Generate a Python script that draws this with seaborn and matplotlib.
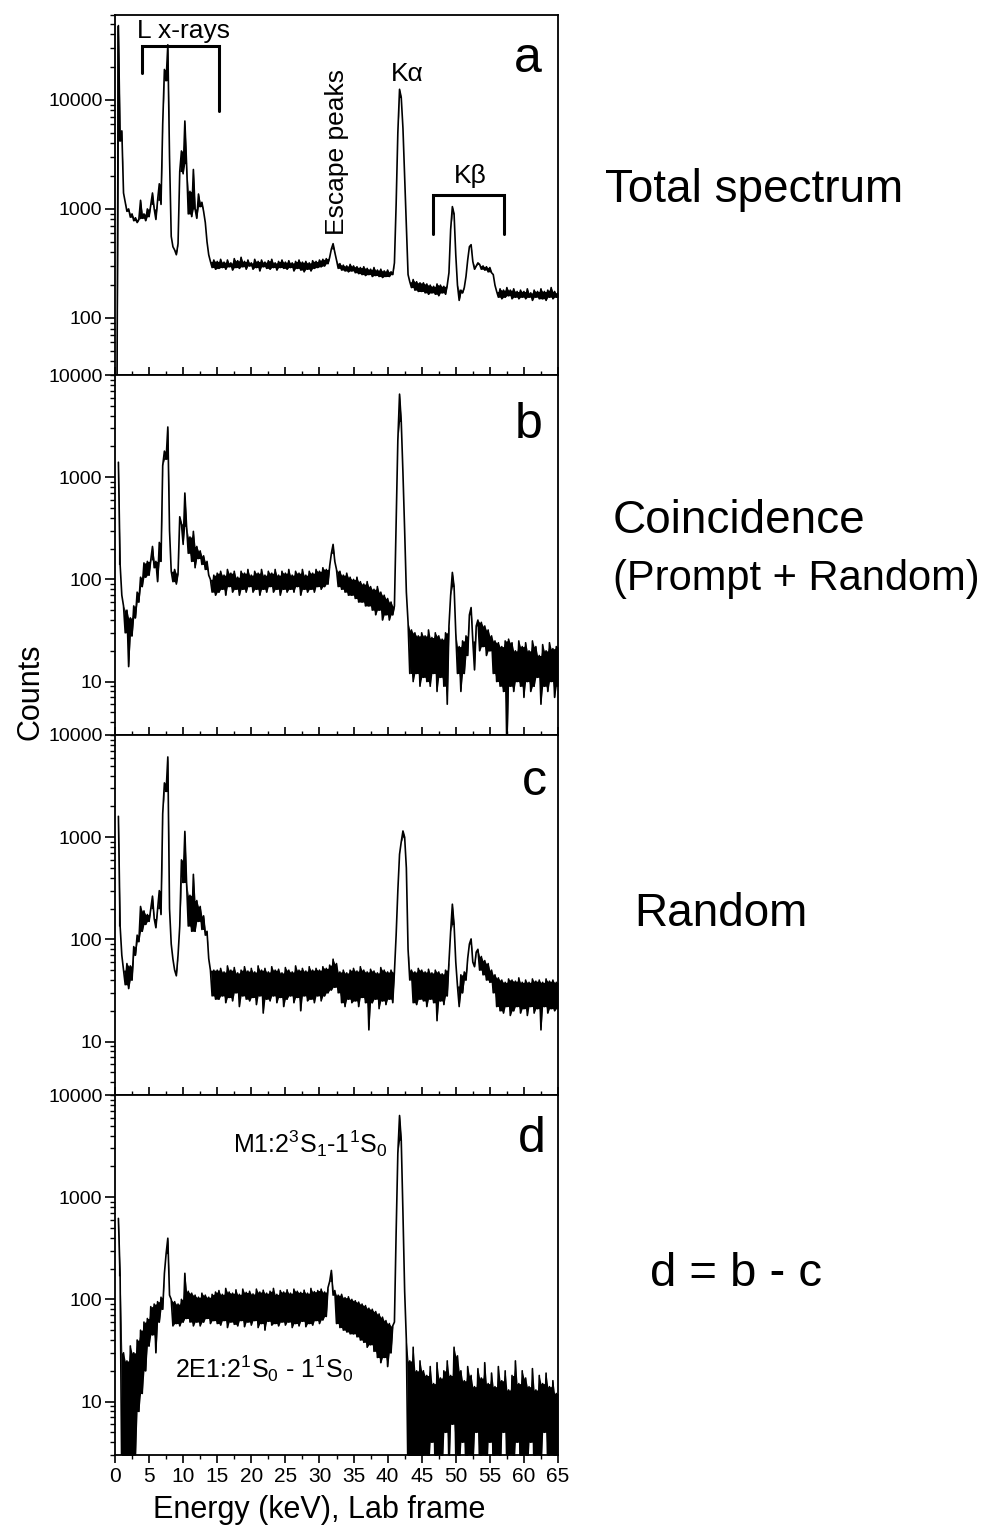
import numpy as np
import pandas as pd
import matplotlib
matplotlib.use("Agg")
import matplotlib.pyplot as plt
import seaborn as sns
from matplotlib.ticker import FixedLocator, LogLocator, NullFormatter, FuncFormatter, MultipleLocator

sns.set_theme(style="ticks")
plt.rcParams["font.family"] = ["Liberation Sans", "DejaVu Sans"]
plt.rcParams["mathtext.fontset"] = "custom"
plt.rcParams["mathtext.rm"] = "Liberation Sans"
plt.rcParams["mathtext.it"] = "Liberation Sans:italic"
plt.rcParams["mathtext.bf"] = "Liberation Sans:bold"
plt.rcParams.update({"text.color": "black", "axes.labelcolor": "black", "xtick.color": "black",
                     "ytick.color": "black", "axes.edgecolor": "black"})

# Channel energies (keV), 0.25 keV bins from 0 to 65 keV
energy_kev = np.arange(0, 65.001, 0.25)

# (a) total spectrum, counts per bin (rows of 5 keV)
counts_total = [
    np.nan, 5, 48000, 4200, 5200, 1400, 1150, 950, 1000, 840, 900, 780, 830, 750, 800, 1200, 820, 900, 780, 1000,
    850, 1100, 1400, 1000, 800, 1200, 1700, 1100, 6000, 19000, 15000, 32000, 3000, 560, 450, 420, 380, 480, 2200, 3400,
    2100, 6400, 2600, 900, 1450, 850, 2300, 1000, 820, 1370, 1050, 1150, 950, 750, 500, 380, 330, 290, 340, 280,
    330, 285, 345, 290, 325, 280, 340, 295, 320, 275, 350, 290, 335, 285, 360, 295, 330, 280, 340, 300,
    320, 280, 345, 290, 330, 270, 340, 295, 325, 285, 335, 280, 345, 290, 320, 275, 330, 290, 340, 285,
    325, 280, 335, 290, 320, 270, 330, 285, 340, 275, 325, 265, 330, 280, 320, 270, 335, 285, 330, 290,
    340, 295, 345, 300, 350, 315, 360, 430, 480, 400, 340, 285, 315, 275, 305, 270, 300, 265, 310, 270,
    300, 260, 295, 255, 290, 250, 295, 245, 285, 250, 280, 240, 290, 245, 275, 240, 280, 235, 270, 240,
    275, 240, 265, 250, 320, 1100, 5000, 12500, 10500, 5500, 1900, 700, 250, 215, 190, 225, 180, 215, 175, 210,
    175, 210, 170, 205, 165, 200, 170, 195, 165, 205, 160, 200, 170, 195, 165, 200, 260, 650, 1050, 900,
    380, 200, 145, 180, 170, 190, 240, 340, 450, 470, 330, 280, 300, 320, 310, 280, 300, 275, 295, 265,
    290, 260, 250, 200, 175, 155, 185, 150, 180, 155, 190, 160, 180, 150, 185, 155, 175, 150, 180, 155,
    175, 150, 185, 155, 170, 145, 180, 155, 175, 150, 185, 150, 175, 145, 180, 155, 190, 150, 175, 155,
    170,
]

# (b) coincidence spectrum (prompt + random)
counts_coinc = [
    np.nan, np.nan, 1400, 140, 70, 55, 30, 50, 14, 42, 28, 55, 42, 75, 60, 105, 85, 145, 105, 150,
    110, 155, 210, 130, 150, 95, 230, 150, 1300, 1800, 1500, 3100, 300, 120, 95, 125, 90, 115, 410, 350,
    220, 700, 330, 180, 260, 150, 295, 130, 210, 160, 190, 140, 170, 125, 150, 110, 100, 75, 110, 70,
    115, 75, 120, 80, 110, 70, 125, 85, 115, 75, 120, 80, 105, 70, 120, 80, 115, 75, 125, 85,
    110, 75, 120, 80, 115, 70, 125, 80, 110, 75, 120, 85, 115, 75, 125, 80, 110, 70, 120, 80,
    115, 75, 125, 80, 110, 75, 120, 85, 115, 70, 125, 80, 110, 75, 120, 80, 115, 75, 125, 85,
    120, 80, 130, 85, 125, 90, 135, 180, 220, 150, 125, 85, 120, 80, 110, 75, 115, 70, 105, 70,
    100, 65, 105, 60, 95, 60, 90, 55, 95, 55, 85, 50, 80, 45, 85, 50, 75, 40, 70, 45,
    65, 40, 60, 45, 55, 350, 2300, 6500, 3500, 1100, 300, 75, 38, 12, 32, 10, 30, 12, 28, 9,
    30, 11, 28, 10, 32, 9, 27, 12, 30, 8, 28, 11, 26, 9, 30, 6, 35, 70, 117, 85,
    30, 12, 22, 8, 25, 12, 28, 18, 45, 53, 25, 13, 35, 40, 20, 38, 22, 35, 18, 32,
    20, 28, 12, 25, 10, 24, 9, 22, 8, 25, 2, 26, 9, 24, 8, 20, 10, 25, 9, 22,
    7, 24, 10, 20, 8, 25, 9, 22, 11, 18, 6, 23, 9, 20, 8, 24, 10, 21, 7, 22,
    9,
]

# (c) random-coincidence spectrum
counts_random = [
    np.nan, np.nan, 1600, 135, 70, 50, 36, 58, 33, 55, 40, 85, 70, 110, 95, 210, 120, 190, 140, 175,
    150, 200, 265, 160, 130, 200, 300, 175, 1700, 3400, 2800, 6100, 200, 90, 64, 50, 44, 70, 135, 600,
    360, 1140, 360, 135, 270, 120, 433, 120, 240, 150, 210, 125, 170, 110, 120, 65, 50, 28, 50, 26,
    50, 26, 52, 28, 48, 24, 55, 27, 50, 25, 53, 30, 47, 22, 50, 28, 54, 26, 49, 25,
    52, 27, 48, 23, 55, 28, 50, 19, 52, 26, 48, 25, 54, 28, 50, 24, 51, 27, 47, 22,
    53, 26, 50, 28, 48, 24, 55, 27, 50, 20, 52, 28, 49, 25, 54, 26, 50, 24, 52, 28,
    50, 25, 54, 28, 52, 30, 56, 32, 64, 34, 58, 30, 48, 24, 50, 22, 47, 26, 50, 24,
    52, 25, 49, 22, 54, 27, 50, 24, 48, 13, 51, 24, 49, 26, 47, 21, 53, 25, 50, 23,
    48, 26, 50, 24, 48, 110, 300, 680, 900, 1150, 1000, 500, 80, 40, 50, 24, 48, 23, 52, 26,
    50, 25, 48, 22, 51, 26, 47, 24, 50, 16, 48, 25, 46, 23, 50, 28, 60, 120, 221, 140,
    60, 35, 22, 45, 30, 48, 40, 65, 90, 101, 60, 54, 75, 80, 50, 68, 45, 62, 40, 58,
    38, 50, 30, 45, 22, 42, 20, 40, 19, 38, 22, 41, 18, 40, 20, 39, 22, 42, 19, 38,
    21, 40, 18, 38, 22, 41, 19, 39, 21, 40, 13, 38, 22, 41, 19, 39, 21, 40, 20, 38,
    21,
]

# (d) difference spectrum d = b - c
counts_diff = [
    np.nan, np.nan, 620, 170, 1.5, 30, 2.5, 25, 1.5, 35, 2, 30, 3, 40, 8, 50, 12, 60, 20, 65,
    35, 85, 45, 90, 30, 95, 60, 105, 80, 180, 280, 397, 110, 100, 55, 95, 58, 90, 55, 100,
    60, 180, 65, 120, 60, 115, 55, 110, 60, 105, 55, 115, 60, 110, 65, 105, 58, 112, 62, 118,
    58, 122, 56, 112, 62, 128, 53, 118, 60, 115, 57, 124, 55, 112, 62, 126, 54, 117, 60, 120,
    56, 113, 62, 126, 53, 118, 58, 123, 50, 115, 61, 120, 56, 128, 58, 112, 55, 122, 60, 118,
    56, 124, 60, 115, 53, 126, 58, 120, 55, 117, 61, 123, 54, 115, 58, 128, 56, 119, 62, 122,
    58, 126, 63, 118, 68, 130, 150, 192, 110, 122, 58, 110, 53, 112, 50, 104, 48, 106, 46, 100,
    46, 97, 43, 94, 40, 90, 38, 87, 34, 82, 36, 80, 31, 76, 27, 72, 24, 67, 27, 62,
    22, 58, 30, 55, 60, 450, 2700, 6300, 3600, 700, 120, 40, 1.5, 25, 2, 34, 1.5, 20, 2, 25,
    1.5, 20, 3, 18, 2, 22, 4, 15, 1.5, 24, 3, 17, 2, 20, 5, 25, 2, 18, 6, 34,
    3, 28, 2, 20, 4, 16, 1.5, 22, 3, 18, 2, 14, 5, 21, 2, 17, 3, 24, 1.5, 15,
    4, 19, 2, 14, 3, 22, 1.5, 16, 5, 20, 2, 13, 3, 18, 2, 25, 4, 15, 1.5, 20,
    3, 17, 2, 14, 4, 21, 1.5, 13, 3, 18, 2, 15, 5, 19, 2, 14, 3, 16, 2, 12,
    3,
]

panel_letters = ["a", "b", "c", "d"]
panel_ylims = [(30, 60000), (3, 10000), (3, 10000), (3, 10000)]
panel_yticks = [[100, 1000, 10000], [10, 100, 1000, 10000], [10, 100, 1000, 10000], [10, 100, 1000, 10000]]
x_ticks = list(range(0, 66, 5))

spectra = [counts_total, counts_coinc, counts_random, counts_diff]

fig, axes = plt.subplots(4, 1, figsize=(9.82, 15.28), dpi=100, sharex=True)
fig.subplots_adjust(left=115 / 982, right=558 / 982, top=1 - 15 / 1528, bottom=1 - 1455 / 1528, hspace=0)

letter_pos = [(0.931, 0.841), (0.933, 0.825), (0.947, 0.833), (0.942, 0.842)]


def noise_envelope(values):
    """Upper/lower edges of the channel-to-channel scatter around each bin."""
    s = pd.Series(values, dtype=float)
    prev, nxt = s.shift(1).to_numpy(), s.shift(-1).to_numpy()
    v = s.to_numpy()
    upper = np.fmax(v, np.fmin(prev, nxt))
    lower = np.fmin(v, np.fmax(prev, nxt))
    upper[np.isnan(v)] = np.nan
    lower[np.isnan(v)] = np.nan
    return lower, upper


for i, (ax, counts) in enumerate(zip(axes, spectra)):
    df = pd.DataFrame({"energy": energy_kev, "counts": counts})
    lower, upper = noise_envelope(counts)
    ax.fill_between(energy_kev, lower, upper, color="black", linewidth=0)
    sns.lineplot(data=df, x="energy", y="counts", ax=ax, color="black",
                 linewidth=1.2, estimator=None, legend=False)
    ax.set_yscale("log")
    ax.set_xlim(0, 65)
    ax.set_ylim(*panel_ylims[i])
    ax.set_xlabel("")
    ax.set_ylabel("")
    ax.yaxis.set_major_locator(FixedLocator(panel_yticks[i]))
    ax.yaxis.set_major_formatter(FuncFormatter(lambda v, p: f"{int(round(v))}"))
    ax.yaxis.set_minor_locator(LogLocator(base=10, subs=np.arange(2, 10)))
    ax.yaxis.set_minor_formatter(NullFormatter())
    ax.xaxis.set_major_locator(FixedLocator(x_ticks))
    ax.xaxis.set_minor_locator(MultipleLocator(2.5))
    for s in ax.spines.values():
        s.set_linewidth(1.3)
        s.set_color("black")
    ax.tick_params(axis="y", which="major", direction="out", length=7, width=1.2,
                   labelsize=14, pad=2, colors="black", right=False)
    ax.tick_params(axis="y", which="minor", direction="out", length=3.5, width=1.0, right=False)
    last = i == 3
    ax.tick_params(axis="x", which="major", direction="out" if last else "in", length=6,
                   width=1.2, labelsize=15, pad=3, top=False, labelbottom=last, colors="black")
    ax.tick_params(axis="x", which="minor", direction="out" if last else "in", length=3,
                   width=1.0, top=False)
    lx, ly = letter_pos[i]
    ax.text(lx, ly, panel_letters[i], transform=ax.transAxes, ha="center", va="baseline",
            fontsize=36, color="black")

# Annotations on the total spectrum
ax_a = axes[0]
ax_a.plot([4.0, 4.0, 15.3, 15.3], [17700, 31000, 31000, 7900], color="black", lw=2.2,
          solid_joinstyle="miter")
ax_a.text(3.2, 37000, "L x-rays", fontsize=19, ha="left", va="baseline")
ax_a.plot([46.7, 46.7, 57.1, 57.1], [590, 1340, 1340, 590], color="black", lw=2.2,
          solid_joinstyle="miter")
ax_a.text(49.65, 1740, "K\u03b2", fontsize=19, ha="left", va="baseline")
ax_a.text(40.45, 14900, "K\u03b1", fontsize=19, ha="left", va="baseline")
ax_a.text(32.6, 3330, "Escape peaks", fontsize=19, ha="center", va="center", rotation=90)

# Transition labels on the difference spectrum
ax_d = axes[3]
ax_d.text(17.3, 2700, r"M1:2$^3$S$_1$-1$^1$S$_0$", fontsize=18, ha="left", va="baseline")
ax_d.text(8.8, 17.2, r"2E1:2$^1$S$_0$ - 1$^1$S$_0$", fontsize=18, ha="left", va="baseline")

# Shared axis titles
fig.text(319 / 982, 1 - 1510 / 1528, "Energy (keV), Lab frame", fontsize=22, ha="center", va="center")
fig.text(30 / 982, 1 - 692 / 1528, "Counts", fontsize=22, ha="center", va="center", rotation=90)

# Spectrum descriptions on the right
fig.text(605 / 982, 1 - 190 / 1528, "Total spectrum", fontsize=33, ha="left", va="center")
fig.text(613 / 982, 1 - 521 / 1528, "Coincidence", fontsize=33, ha="left", va="center")
fig.text(613 / 982, 1 - 579 / 1528, "(Prompt + Random)", fontsize=30, ha="left", va="center")
fig.text(634 / 982, 1 - 914 / 1528, "Random", fontsize=33, ha="left", va="center")
fig.text(650 / 982, 1 - 1274 / 1528, "d = b - c", fontsize=34, ha="left", va="center")

fig.savefig("out.png", dpi=100)
